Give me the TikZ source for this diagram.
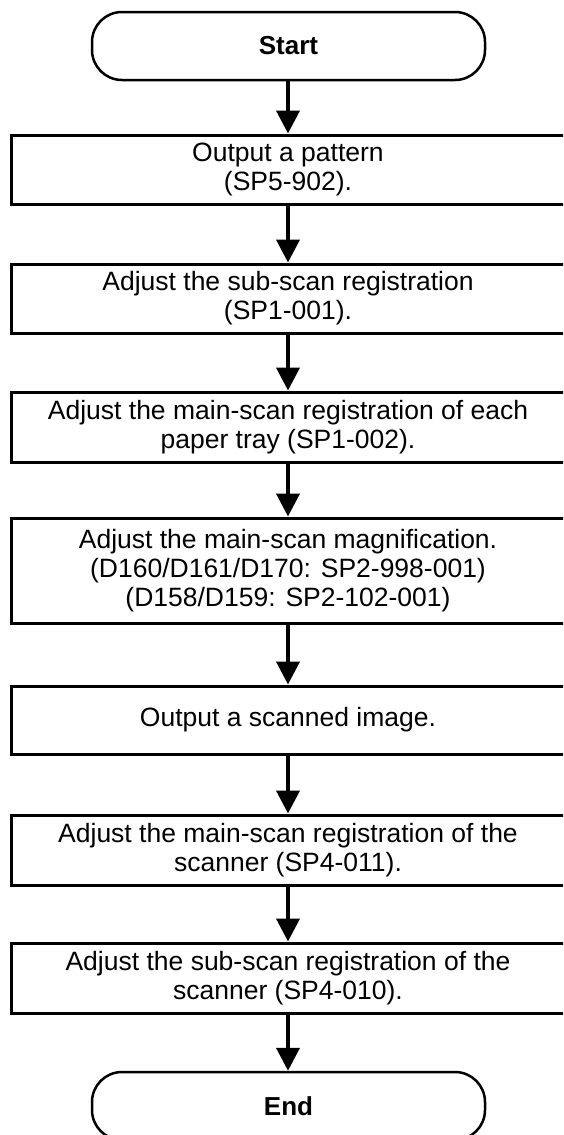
\documentclass[tikz,border=0pt]{standalone}
\usepackage{fontspec}
\setmainfont{Liberation Sans}
\usetikzlibrary{arrows.meta}
\begin{document}
\begin{tikzpicture}[x=1pt,y=-1pt,
  stepbox/.style={draw=black, line width=3pt, rectangle, minimum width=554pt, inner sep=0pt, align=center,
    font=\fontsize{26.5}{29}\selectfont},
  term/.style={draw=black, line width=2.5pt, rectangle, rounded corners=30pt, minimum width=393pt, minimum height=68pt,
    inner sep=0pt, font=\fontsize{26}{29}\selectfont\bfseries},
  flow/.style={line width=4pt, -{Triangle[length=23pt,width=23pt]}}]
\useasboundingbox (0,0) rectangle (563,1135);
\clip (0,0) rectangle (563,1135);
\fill[white] (0,0) rectangle (563,1135);
\node[term] (start) at (288.5,46) {Start};
\node[stepbox, minimum height=69pt] (b1) at (288,169.5) {Output a pattern\\(SP5-902).};
\node[stepbox, minimum height=69pt] (b2) at (288,298.5) {Adjust the sub-scan registration\\(SP1-001).};
\node[stepbox, minimum height=70pt] (b3) at (288,427) {Adjust the main-scan registration of each\\paper tray (SP1-002).};
\node[stepbox, minimum height=105pt] (b4) at (288,570.5) {Adjust the main-scan magnification.\\(D160/D161/D170: SP2-998-001)\\(D158/D159: SP2-102-001)};
\node[stepbox, minimum height=68pt] (b5) at (288,720) {Output a scanned image.};
\node[stepbox, minimum height=70pt] (b6) at (288,850) {Adjust the main-scan registration of the\\scanner (SP4-011).};
\node[stepbox, minimum height=70pt] (b7) at (288,978) {Adjust the sub-scan registration of the\\scanner (SP4-010).};
\node[term] (end) at (288.5,1106) {End};
\draw[flow] (start.south -| b1.north) -- (b1.north);
\draw[flow] (b1.south) -- (b2.north);
\draw[flow] (b2.south) -- (b3.north);
\draw[flow] (b3.south) -- (b4.north);
\draw[flow] (b4.south) -- (b5.north);
\draw[flow] (b5.south) -- (b6.north);
\draw[flow] (b6.south) -- (b7.north);
\draw[flow] (b7.south) -- (b7.south |- end.north);
\end{tikzpicture}
\end{document}
